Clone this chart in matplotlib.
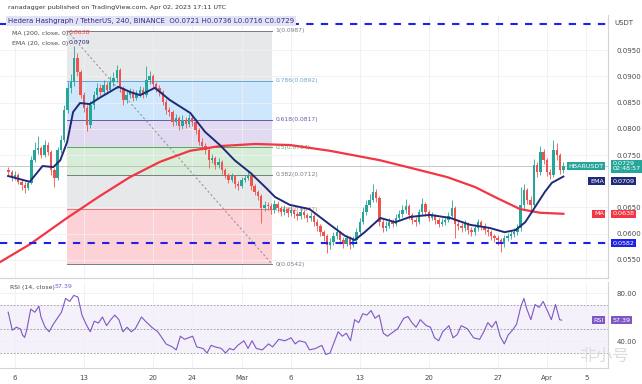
import numpy as np
import matplotlib.pyplot as plt

plt.rcParams['font.family'] = ['DejaVu Sans', 'Noto Sans CJK SC']

# 8h candles, prices in 1e-4 USDT (pips); x in days since Feb 6 2023 00:00
close_pips = [718, 706, 712, 699, 693, 687, 697, 740, 760, 763,
              750, 769, 756, 721, 706, 760, 779, 836, 878, 889,
              935, 908, 864, 840, 807, 845, 864, 878, 870, 883,
              874, 889, 897, 912, 878, 855, 864, 870, 859, 866,
              874, 864, 893, 900, 885, 878, 870, 851, 836, 832,
              813, 820, 805, 817, 809, 820, 813, 798, 775, 767,
              760, 740, 744, 731, 737, 721, 712, 702, 710, 695,
              691, 702, 706, 712, 691, 680, 672, 649, 655, 653,
              645, 657, 649, 641, 647, 640, 645, 638, 634, 641,
              636, 630, 634, 622, 615, 603, 596, 579, 584, 596,
              603, 588, 580, 592, 579, 588, 603, 622, 641, 655,
              664, 680, 668, 622, 611, 615, 622, 619, 630, 638,
              645, 653, 636, 626, 622, 641, 657, 641, 630, 634,
              626, 619, 622, 626, 634, 649, 619, 615, 611, 619,
              607, 603, 611, 622, 615, 607, 603, 596, 592, 588,
              580, 592, 596, 599, 603, 611, 655, 683, 664, 655,
              731, 718, 756, 740, 718, 712, 760, 750, 721, 729]
high_pips = [728, 722, 720, 716, 704, 698, 703, 748, 775, 786,
             768, 778, 774, 760, 726, 766, 788, 845, 890, 905,
             958, 945, 912, 870, 846, 852, 872, 888, 885, 892,
             890, 900, 908, 922, 916, 882, 872, 878, 875, 874,
             882, 880, 920, 910, 904, 890, 884, 874, 856, 842,
             836, 828, 824, 826, 822, 828, 826, 818, 802, 782,
             772, 764, 752, 748, 745, 740, 726, 716, 716, 712,
             700, 708, 712, 720, 714, 694, 684, 676, 662, 660,
             658, 664, 662, 652, 654, 650, 652, 648, 644, 650,
             646, 640, 642, 638, 628, 618, 608, 600, 592, 604,
             616, 606, 594, 598, 596, 596, 610, 630, 650, 664,
             676, 694, 686, 672, 628, 624, 630, 628, 638, 646,
             654, 666, 656, 640, 632, 648, 668, 660, 646, 642,
             638, 630, 630, 634, 642, 664, 652, 626, 620, 626,
             622, 612, 618, 628, 626, 620, 612, 608, 600, 598,
             592, 598, 602, 606, 610, 618, 690, 694, 688, 672,
             742, 736, 768, 762, 744, 724, 778, 772, 754, 736]
low_pips = [712, 700, 702, 694, 684, 678, 683, 694, 736, 752,
            744, 746, 750, 712, 690, 702, 754, 775, 830, 868,
            882, 900, 858, 832, 796, 802, 838, 856, 862, 865,
            866, 870, 882, 890, 870, 846, 850, 858, 852, 854,
            860, 858, 860, 886, 878, 870, 862, 845, 828, 824,
            806, 808, 798, 800, 802, 804, 806, 790, 770, 760,
            752, 726, 734, 724, 726, 714, 706, 696, 698, 688,
            684, 688, 698, 702, 684, 674, 664, 620, 644, 646,
            638, 640, 642, 634, 636, 632, 634, 630, 626, 628,
            630, 622, 624, 614, 606, 596, 586, 564, 570, 578,
            590, 580, 572, 576, 570, 574, 584, 598, 618, 636,
            650, 660, 660, 614, 604, 606, 610, 612, 614, 626,
            632, 640, 628, 618, 614, 618, 636, 634, 624, 626,
            618, 612, 614, 616, 622, 630, 592, 608, 604, 606,
            600, 596, 598, 606, 608, 600, 596, 588, 584, 578,
            566, 574, 586, 590, 594, 598, 606, 648, 656, 640,
            650, 708, 712, 732, 710, 704, 708, 740, 714, 716]
first_open_pips = 722
candle_start = -2 / 3
candle_step = 1 / 3

ma_days = [-1.52, 1.52, 5.28, 8.63, 11.68, 14.72, 17.77, 20.81, 24.37, 27.92,
           31.98, 37.06, 41.12, 43.86, 46.70, 48.93, 51.27, 53.30, 55.67]
ma_pips = [546, 580, 630, 672, 708, 737, 758, 767, 771, 769,
           758, 740, 721, 708, 689, 668, 647, 640, 638]

ema_days = [-0.7, 1.5, 2.8, 3.9, 4.6, 5.3, 5.9, 6.6, 7.6, 8.6,
            10.5, 11.7, 12.7, 14.2, 15.7, 17.8, 19.3, 20.8, 22.3, 23.9,
            25.4, 26.4, 27.9, 29.9, 32.0, 33.5, 34.5, 35.5, 37.1, 38.6,
            40.1, 42.1, 44.2, 46.2, 48.2, 49.7, 50.8, 51.8, 52.8, 53.8,
            54.5, 55.67]
ema_pips = [710, 699, 729, 727, 740, 775, 832, 849, 847, 859,
            880, 870, 864, 878, 855, 830, 794, 769, 740, 716,
            689, 670, 655, 647, 617, 596, 588, 603, 630, 622,
            632, 636, 630, 617, 611, 603, 607, 622, 651, 680,
            697, 709]

rsi_days = [-0.69, -0.27, 0.14, 0.56, 0.77, 0.98, 1.19, 1.60, 2.02, 2.43,
            2.64, 3.06, 3.47, 3.89, 4.31, 4.72, 5.14, 5.55, 5.97, 6.39,
            6.80, 7.22, 7.64, 8.05, 8.47, 8.88, 9.30, 9.72, 10.13, 10.55,
            10.96, 11.38, 11.80, 12.21, 12.84, 13.25, 13.88, 14.50, 14.92, 15.33,
            15.96, 16.37, 16.79, 17.21, 17.62, 18.04, 18.45, 19.08, 19.50, 19.91,
            20.33, 20.95, 21.37, 21.78, 22.20, 22.62, 23.24, 23.66, 24.07, 24.49,
            25.11, 25.74, 26.15, 26.78, 27.40, 28.03, 28.44, 28.86, 29.48, 29.90,
            30.52, 31.15, 31.56, 31.98, 32.40, 32.81, 33.23, 33.64, 34.06, 34.48,
            34.89, 35.31, 35.72, 36.14, 36.56, 36.97, 37.39, 37.81, 38.22, 38.85,
            39.47, 39.89, 40.30, 40.72, 41.14, 41.76, 42.18, 42.59, 43.01, 43.42,
            44.05, 44.47, 44.88, 45.30, 45.92, 46.55, 47.17, 47.59, 48.00, 48.42,
            48.83, 49.25, 49.67, 50.08, 50.50, 50.92, 51.33, 51.66, 51.96, 52.37,
            52.79, 53.21, 53.62, 54.04, 54.45, 54.87, 55.29, 55.49]
rsi_vals = [64, 49, 51.5, 50, 45, 43, 49, 66.6, 64, 69,
            60, 51.5, 47.7, 54, 59, 64, 75.5, 73, 78, 76.7,
            61.6, 54, 47.7, 56.5, 55, 60, 52.8, 57.8, 61.6, 57.8,
            47.7, 51.5, 47.7, 50.2, 60, 56.5, 51.5, 47.7, 42.7, 37.6,
            35.1, 32.6, 44, 41.4, 42.7, 44, 35.1, 33.8, 30, 36.4,
            35.1, 33.8, 30, 33.8, 32.6, 36.4, 40.2, 33.8, 40.2, 33.8,
            32.6, 37.6, 35.1, 41.4, 40.2, 42.7, 37.6, 40.2, 38.9, 32.6,
            33.8, 36.4, 28.8, 30, 38.9, 47.7, 44, 46.5, 40.2, 57.8,
            55.3, 62.8, 61.6, 65.4, 59, 61.6, 46.5, 44, 46.5, 50.2,
            59, 60.4, 55.3, 51.5, 57.8, 52.8, 51.5, 42.7, 40.2, 47.7,
            52.8, 42.7, 45.2, 52.8, 50.2, 42.7, 41.4, 47.7, 55.3, 51.5,
            56.5, 44, 37.6, 45.2, 49, 54, 68, 75.5, 66.6, 57.8,
            70.4, 68, 73, 65.4, 57.8, 70.4, 57.8, 57.39]

# fib retracement drawn from the Feb high to the Mar low
fib_days = [5.28, 26.1]
fib_high = 0.0987
fib_low = 0.0542
fib_levels = [0, 0.236, 0.382, 0.5, 0.618, 0.786, 1]
fib_fill = ['#f23645', '#9598a1', '#4caf50', '#7e57c2', '#2196f3', '#9598a1']
fib_line = ['#787b86', '#e57373', '#787b86', '#4caf50', '#5c5fa8', '#64a5d6', '#787b86']

support = 0.0582
top_line = 0.1000
last_price = 0.0729

tick_days = [0, 7, 14, 18, 23, 28, 35, 42, 49, 54, 58]
tick_text = ['6', '13', '20', '24', 'Mar', '6', '13', '20', '27', 'Apr', '5']
price_ticks = [0.055, 0.060, 0.065, 0.075, 0.080, 0.085, 0.090, 0.095]

close = np.array(close_pips) / 1e4
high = np.array(high_pips) / 1e4
low = np.array(low_pips) / 1e4
opn = np.r_[first_open_pips / 1e4, close[:-1]]
t = candle_start + candle_step * np.arange(len(close))
colors = ['#26a69a' if c >= o else '#ef5350' for o, c in zip(opn, close)]

W, H = 642, 384
fig = plt.figure(figsize=(W / 100, H / 100), dpi=100)
ax = fig.add_axes([0, 1 - 278 / H, 608 / W, 263 / H])
axr = fig.add_axes([0, 1 - 368 / H, 608 / W, 86 / H], sharex=ax)

grid_c = '#eef0f4'
lab_c = '#4a4a4a'
for a in (ax, axr):
    for s in ('top', 'left'):
        a.spines[s].set_visible(False)
    a.spines['right'].set_color('#d1d4dc')
    a.spines['bottom'].set_color('#d1d4dc')
    a.spines['right'].set_linewidth(0.8)
    a.spines['bottom'].set_linewidth(0.8)
    a.yaxis.tick_right()
    a.tick_params(length=0, labelsize=5, labelcolor=lab_c, pad=6)
    a.set_xticks(tick_days)
    a.grid(True, color=grid_c, lw=0.6)
    a.set_axisbelow(True)

ax.set_xlim(-1.52, 60.2)
ax.set_ylim(0.05157, 0.10167)
ax.set_yticks(price_ticks)
ax.set_yticklabels([f'{p:.4f}' for p in price_ticks])
ax.tick_params(labelbottom=False)

# fib retracement
fib_prices = [fib_low + lv * (fib_high - fib_low) for lv in fib_levels]
for k in range(len(fib_fill)):
    ax.fill_between(fib_days, fib_prices[k], fib_prices[k + 1],
                    color=fib_fill[k], alpha=0.22, lw=0, zorder=0.5)
for k, (lv, p) in enumerate(zip(fib_levels, fib_prices)):
    ax.plot(fib_days, [p, p], color=fib_line[k], lw=0.7, zorder=0.6)
    ax.text(fib_days[1] + 0.35, p, f'{lv:g}({p:.4f})', fontsize=4.3,
            color=fib_line[k], va='center', ha='left', zorder=1)
ax.plot(fib_days, [fib_high, fib_low], color='#9598a1', lw=0.8,
        ls=(0, (2, 2)), zorder=0.7)

ax.axhline(last_price, color='#b2b5be', lw=0.5, zorder=0.8)

# candles
ax.vlines(t, low, high, colors=colors, lw=0.6, zorder=2)
ax.bar(t, np.maximum(np.abs(close - opn), 0.00004), bottom=np.minimum(opn, close),
       width=0.24, color=colors, lw=0, zorder=2.1)

ax.plot(ma_days, np.array(ma_pips) / 1e4, color='#f23645', lw=1.6, zorder=3)
ax.plot(ema_days, np.array(ema_pips) / 1e4, color='#1f2a7a', lw=1.4, zorder=3.1)

for lvl in (top_line, support):
    ax.axhline(lvl, color='#1e22e6', lw=1.5, dashes=(3.5, 3.5), zorder=3.2)

# right-hand badges
def badge(axis, y, txt, fc, label=None, dy=0, va='center'):
    axis.annotate(txt, xy=(1, y), xycoords=('axes fraction', 'data'),
                  xytext=(3, dy), textcoords='offset points', fontsize=4.6,
                  color='white', va=va, ha='left', linespacing=1.0,
                  bbox=dict(boxstyle='square,pad=0.25', fc=fc, ec='none'),
                  annotation_clip=False, zorder=5)
    if label:
        axis.annotate(label, xy=(1, y), xycoords=('axes fraction', 'data'),
                      xytext=(-3, dy if va == 'center' else 0),
                      textcoords='offset points', fontsize=4.6,
                      color='white', va='center', ha='right',
                      bbox=dict(boxstyle='square,pad=0.25', fc=fc, ec='none'),
                      annotation_clip=False, zorder=5)

badge(ax, close[-1], f'{close[-1]:.4f}\n02:48:57', '#26a69a', 'HBARUSDT',
      dy=3.5, va='top')
badge(ax, ema_pips[-1] / 1e4, f'{ema_pips[-1] / 1e4:.4f}', '#1f2a7a', 'EMA', dy=-3.5)
badge(ax, ma_pips[-1] / 1e4, f'{ma_pips[-1] / 1e4:.4f}', '#f23645', 'MA')
badge(ax, support, f'{support:.4f}', '#1e22e6')

# RSI pane
axr.set_ylim(17.5, 89.2)
axr.set_yticks([40, 80])
axr.set_yticklabels(['40.00', '80.00'])
axr.axhspan(30, 70, color='#7e57c2', alpha=0.08, lw=0, zorder=0.5)
for lv in (70, 50, 30):
    axr.axhline(lv, color='#9598a1', lw=0.6, dashes=(2, 2), zorder=0.6)
axr.plot(rsi_days, rsi_vals, color='#7e57c2', lw=0.8, zorder=3)
axr.set_xticklabels(tick_text)
axr.tick_params(axis='x', pad=5)
badge(axr, rsi_vals[-1], f'{rsi_vals[-1]:.2f}', '#7e57c2', 'RSI')

# header and legends
def ftext(px, py, s, **kw):
    return fig.text(px / W, 1 - py / H, s, va='center', ha='left', **kw)

ftext(8, 8, 'ranadagger published on TradingView.com, Apr 02, 2023 17:11 UTC',
      fontsize=4.6, color='#333333')
ftext(8, 21, f'Hedera Hashgraph / TetherUS, 240, BINANCE  O{opn[-1]:.4f} '
      f'H{high[-1]:.4f} L{low[-1]:.4f} C{close[-1]:.4f}',
      fontsize=5, color='#2a2e8c', zorder=6,
      bbox=dict(boxstyle='square,pad=0.3', fc='#e4e3f6', ec='none'))
ftext(12, 33, 'MA (200, close, 0)', fontsize=4.5, color=lab_c)
ftext(69, 33, f'{ma_pips[-1] / 1e4:.4f}', fontsize=4.5, color='#f23645')
ftext(12, 43, 'EMA (20, close, 0)', fontsize=4.5, color=lab_c)
ftext(69, 43, f'{ema_pips[-1] / 1e4:.4f}', fontsize=4.5, color='#1f2a7a')
ftext(10, 287, 'RSI (14, close)', fontsize=4.5, color=lab_c)
ftext(55, 287, f'{rsi_vals[-1]:.2f}', fontsize=4.5, color='#7e57c2')
ftext(614, 23, 'USDT', fontsize=5, color=lab_c)
fig.text(604 / W, 1 - 356 / H, '非小号', family='Noto Sans CJK SC', fontsize=12,
         color='#dcdcdc', ha='center', va='center')

fig.savefig('out.png', dpi=100)
